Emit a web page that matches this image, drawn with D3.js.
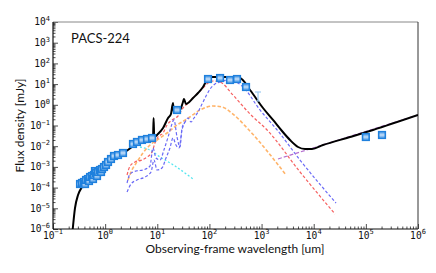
<!DOCTYPE html>
<html>
<head>
<meta charset="utf-8">
<script src="https://cdn.jsdelivr.net/npm/d3@7"></script>
<style>
  body { margin: 0; background: #fff; }
  svg { display: block; }
</style>
</head>
<body>
<div id="chart"></div>
<script>
// wavelength in um, flux density in mJy
const title = 'PACS-224';

const obsLam = [0.33, 0.36, 0.393, 0.411, 0.43, 0.469, 0.49, 0.513, 0.56, 0.585, 0.611, 0.638, 0.668, 0.698, 0.73, 0.797, 0.834, 0.871, 0.951,
    1.04, 1.135, 1.295, 1.48, 1.765, 2.2, 3.42, 4.08, 5.09, 6.35, 7.93, 23.9, 94, 160, 248, 338, 503, 1.0e5, 2.04e5];
const obsFlux = [1.49e-4, 1.67e-4, 1.87e-4, 1.49e-4, 2.33e-4, 2.6e-4, 2.08e-4, 3.25e-4, 3.63e-4, 2.6e-4, 4.06e-4, 6.3e-4, 5.07e-4, 3.63e-4, 5.67e-4, 7.08e-4, 5.67e-4, 7.92e-4, 9.9e-4,
    1.24e-3, 1.73e-3, 2.41e-3, 3.37e-3, 3.76e-3, 4.7e-3, 0.0128, 0.016, 0.020, 0.0223, 0.0249, 0.561, 17.6, 19.7, 15.8, 17.6, 7.24, 0.0278, 0.0348];

// upper limit (850 um)
const limLam = [855];
const limTop = [4.15];
const limBottom = [1.53];

const totalLam = [0.239, 0.264, 0.302, 0.36, 0.469, 0.639, 0.91, 1.545, 2.40, 3.27, 4.66, 6.64, 8.28, 8.5, 8.73, 10.3, 12.9, 16.1, 18.3, 20.0, 20.9,
    27.3, 31.1, 32.5, 35.5, 38.8, 48.4, 60.4, 75.3, 89.9, 107, 199, 386, 600, 1066, 1657, 2465, 3510, 5000, 6810, 9270, 15070, 49650, 1.37e5, 1e6];
const totalFlux = [1e-6, 1.03e-5, 4.39e-5, 1.07e-4, 2.33e-4, 4.54e-4, 9.9e-4, 2.69e-3, 5.25e-3, 9.15e-3, 0.016, 0.0223, 0.0249, 0.23, 0.0278, 0.0388, 0.0757, 0.23, 0.359, 1.22, 0.40,
    0.561, 1.37, 1.9, 1.09, 1.22, 2.13, 3.72, 7.24, 15.8, 22.0, 22.0, 19.7, 5.19, 0.70, 0.185, 0.0542, 0.0199, 9.15e-3, 7.33e-3, 7.33e-3, 0.0114, 0.0278, 0.0607, 0.321];

const redLam = [2.63, 3.0, 3.74, 5.09, 6.35, 7.93, 9.04, 10.3, 12.9, 15.4, 19.2, 25.0, 31.1, 37.2, 52.8, 75.3, 94, 117, 160, 283, 600, 1276, 5470, 25600];
const redFlux = [4.06e-4, 1.1e-3, 1.73e-3, 2.16e-3, 3.0e-3, 5.25e-3, 0.0143, 0.0278, 0.0434, 0.106, 0.185, 0.288, 0.70, 1.09, 2.66, 6.49, 11.3, 14.1, 12.6, 2.97, 0.359, 0.0607, 5.67e-4, 5.3e-6];

const blueLam = [2.63, 3.0, 3.91, 5.32, 7.24, 8.28, 9.45, 11.3, 13.4, 16.1, 18.3, 20.9, 23.9, 27.3, 29.8, 34.0, 38.8, 44.4, 50.6, 60.4, 72.1, 86.0,
    103, 128, 160, 248, 441, 933, 2065, 5460, 26800];
const blueFlux = [1.67e-4, 4.54e-4, 6.34e-4, 7.08e-4, 1.1e-3, 8.18e-3, 2.69e-3, 2.16e-3, 6.55e-3, 0.0278, 0.0848, 0.185, 0.0278, 9.15e-3, 0.0757, 0.148, 0.23, 0.148, 0.23, 0.449, 1.09, 2.66,
    5.79, 10.1, 12.6, 15.8, 7.24, 0.561, 0.0542, 2.15e-3, 1.8e-5];

const blue2Lam = [2.63, 3.13, 4.08, 5.82, 7.59, 8.65, 9.88, 12.3, 14.7, 17.5, 20.0, 22.8, 26.1, 29.8, 34.0];
const blue2Flux = [6.14e-5, 1.49e-4, 2.33e-4, 3.25e-4, 5.67e-4, 2.16e-3, 7.08e-4, 8.85e-4, 2.69e-3, 8.18e-3, 0.0249, 0.0114, 8.18e-3, 0.0607, 0.148];

const orangeLam = [2.74, 3.27, 4.08, 5.32, 7.24, 9.88, 15.4, 23.9, 37.2, 65.9, 117, 174, 283, 550, 2945];
const orangeFlux = [2.33e-4, 7.08e-4, 1.73e-3, 4.7e-3, 0.0114, 0.0199, 0.0434, 0.106, 0.206, 0.561, 0.875, 0.783, 0.359, 0.0678, 4.06e-4];

const cyanLam = [4.66, 7.24, 11.3, 21.9, 48.4];
const cyanFlux = [9.15e-3, 6.55e-3, 3.0e-3, 1.1e-3, 2.6e-4];

const purpleLam = [2065, 1e6];
const purpleFlux = [2.41e-3, 0.321];

const xMajor = [1e-1, 1e0, 1e1, 1e2, 1e3, 1e4, 1e5, 1e6];
const xExp = ['\u22121', '0', '1', '2', '3', '4', '5', '6'];
const yMajor = [1e-6, 1e-5, 1e-4, 1e-3, 1e-2, 1e-1, 1e0, 1e1, 1e2, 1e3, 1e4];
const yExp = ['\u22126', '\u22125', '\u22124', '\u22123', '\u22122', '\u22121', '0', '1', '2', '3', '4'];

const w = 436;
const h = 273;
const pLeft = 53, pRight = 418, pTop = 22, pBottom = 229;

const svg = d3.select('#chart')
    .append('svg')
    .attr('width', w)
    .attr('height', h);

const x = d3.scaleLog().domain([0.1, 1e6]).range([pLeft, pRight]);
const y = d3.scaleLog().domain([1e-6, 1e4]).range([pBottom, pTop]);

svg.append('clipPath').attr('id', 'plotClip')
    .append('rect')
    .attr('x', pLeft).attr('y', pTop)
    .attr('width', pRight - pLeft).attr('height', pBottom - pTop);

// minor ticks
function minors(lo, hi) {
    const out = [];
    for (let e = lo; e < hi; e++) {
        for (let k = 2; k <= 9; k++) out.push(k * Math.pow(10, e));
    }
    return out;
}

svg.append('g')
    .attr('transform', 'translate(0,' + pBottom + ')')
    .call(d3.axisBottom(x).tickValues(minors(-1, 6)).tickSize(-2.5).tickFormat(''))
    .call(g => g.select('.domain').remove());
svg.append('g')
    .attr('transform', 'translate(0,' + pBottom + ')')
    .call(d3.axisBottom(x).tickValues(xMajor).tickSize(-5).tickFormat(''))
    .call(g => g.select('.domain').remove());
svg.append('g')
    .attr('transform', 'translate(' + pLeft + ',0)')
    .call(d3.axisLeft(y).tickValues(minors(-6, 4)).tickSize(-2.5).tickFormat(''))
    .call(g => g.select('.domain').remove());
svg.append('g')
    .attr('transform', 'translate(' + pLeft + ',0)')
    .call(d3.axisLeft(y).tickValues(yMajor).tickSize(-5).tickFormat(''))
    .call(g => g.select('.domain').remove());

svg.selectAll('.tick line').attr('stroke', '#222').attr('stroke-width', 0.8);

// tick labels
const mono = "'DejaVu Sans Mono', monospace";
xMajor.forEach((v, i) => {
    const t = svg.append('text')
        .attr('x', x(v))
        .attr('y', 238.5)
        .attr('text-anchor', 'middle')
        .attr('font-family', mono)
        .attr('font-size', 9.6)
        .attr('fill', '#111');
    t.append('tspan').text('10');
    t.append('tspan').attr('dy', -4.2).attr('font-size', 7).text(xExp[i]);
});
yMajor.forEach((v, i) => {
    const t = svg.append('text')
        .attr('x', 50)
        .attr('y', y(v) + 3.4)
        .attr('text-anchor', 'end')
        .attr('font-family', mono)
        .attr('font-size', 9.6)
        .attr('fill', '#111');
    t.append('tspan').text('10');
    t.append('tspan').attr('dy', -4.2).attr('font-size', 7).text(yExp[i]);
});

// frame
svg.append('line').attr('x1', pLeft).attr('x2', pRight).attr('y1', pTop).attr('y2', pTop)
    .attr('stroke', '#888').attr('stroke-width', 1);
svg.append('line').attr('x1', pRight).attr('x2', pRight).attr('y1', pTop).attr('y2', pBottom)
    .attr('stroke', '#333').attr('stroke-width', 1);
svg.append('line').attr('x1', pLeft).attr('x2', pRight).attr('y1', pBottom).attr('y2', pBottom)
    .attr('stroke', '#111').attr('stroke-width', 1.2);
svg.append('line').attr('x1', pLeft).attr('x2', pLeft).attr('y1', pTop).attr('y2', pBottom)
    .attr('stroke', '#111').attr('stroke-width', 1.2);

const plot = svg.append('g').attr('clip-path', 'url(#plotClip)');

const line = d3.line()
    .x(d => x(d[0]))
    .y(d => y(d[1]))
    .curve(d3.curveMonotoneX);

function series(lam, flux) {
    return lam.map((l, i) => [l, flux[i]]);
}

const comps = [
    { lam: cyanLam, flux: cyanFlux, color: '#55e6f0', width: 1.3, dash: '2,2' },
    { lam: orangeLam, flux: orangeFlux, color: '#ffb46a', width: 1.6, dash: '3.5,2' },
    { lam: blue2Lam, flux: blue2Flux, color: '#6a6af6', width: 1.2, dash: '3,2' },
    { lam: redLam, flux: redFlux, color: '#f66060', width: 1.2, dash: '3,2' },
    { lam: blueLam, flux: blueFlux, color: '#6a6af6', width: 1.2, dash: '3,2' },
    { lam: purpleLam, flux: purpleFlux, color: '#b56fd0', width: 1.2, dash: '4,2' }
];

comps.forEach(c => {
    plot.append('path')
        .datum(series(c.lam, c.flux))
        .attr('d', line)
        .attr('fill', 'none')
        .attr('stroke', c.color)
        .attr('stroke-width', c.width)
        .attr('stroke-dasharray', c.dash);
});

plot.append('path')
    .datum(series(totalLam, totalFlux))
    .attr('d', line)
    .attr('fill', 'none')
    .attr('stroke', '#000')
    .attr('stroke-width', 2)
    .attr('stroke-linejoin', 'round');

// upper limit
limLam.forEach((l, i) => {
    const g = plot.append('g').attr('stroke', '#9ccaf0').attr('stroke-width', 1.2);
    g.append('line').attr('x1', x(l)).attr('x2', x(l)).attr('y1', y(limTop[i])).attr('y2', y(limBottom[i]));
    g.append('line').attr('x1', x(l) - 3).attr('x2', x(l) + 3).attr('y1', y(limTop[i])).attr('y2', y(limTop[i]));
    g.append('line').attr('x1', x(l) - 1.5).attr('x2', x(l) + 1.5).attr('y1', y(limBottom[i])).attr('y2', y(limBottom[i]));
});

// observed points
const pts = plot.selectAll('g.pt')
    .data(series(obsLam, obsFlux))
    .enter()
    .append('g')
    .attr('class', 'pt')
    .attr('transform', d => 'translate(' + x(d[0]) + ',' + y(d[1]) + ')');
pts.append('rect')
    .attr('x', -3.3).attr('y', -3.3)
    .attr('width', 6.6).attr('height', 6.6)
    .attr('fill', '#86bbef')
    .attr('stroke', '#1f80dd')
    .attr('stroke-width', 1.6);
pts.append('line')
    .attr('x1', -2.4).attr('x2', 2.4).attr('y1', 0).attr('y2', 0)
    .attr('stroke', '#e8f2fc').attr('stroke-width', 0.9);

// texts
svg.append('text')
    .attr('x', 71)
    .attr('y', 43)
    .attr('font-family', 'Lato, sans-serif')
    .attr('font-size', 13)
    .attr('fill', '#111')
    .text(title);

svg.append('text')
    .attr('x', 235)
    .attr('y', 253)
    .attr('text-anchor', 'middle')
    .attr('font-family', 'Lato, sans-serif')
    .attr('font-size', 12)
    .attr('fill', '#111')
    .text('Observing-frame wavelength [um]');

svg.append('text')
    .attr('transform', 'translate(24,' + ((pTop + pBottom) / 2) + ') rotate(-90)')
    .attr('text-anchor', 'middle')
    .attr('font-family', 'Lato, sans-serif')
    .attr('font-size', 12)
    .attr('fill', '#111')
    .text('Flux density [mJy]');
</script>
</body>
</html>
